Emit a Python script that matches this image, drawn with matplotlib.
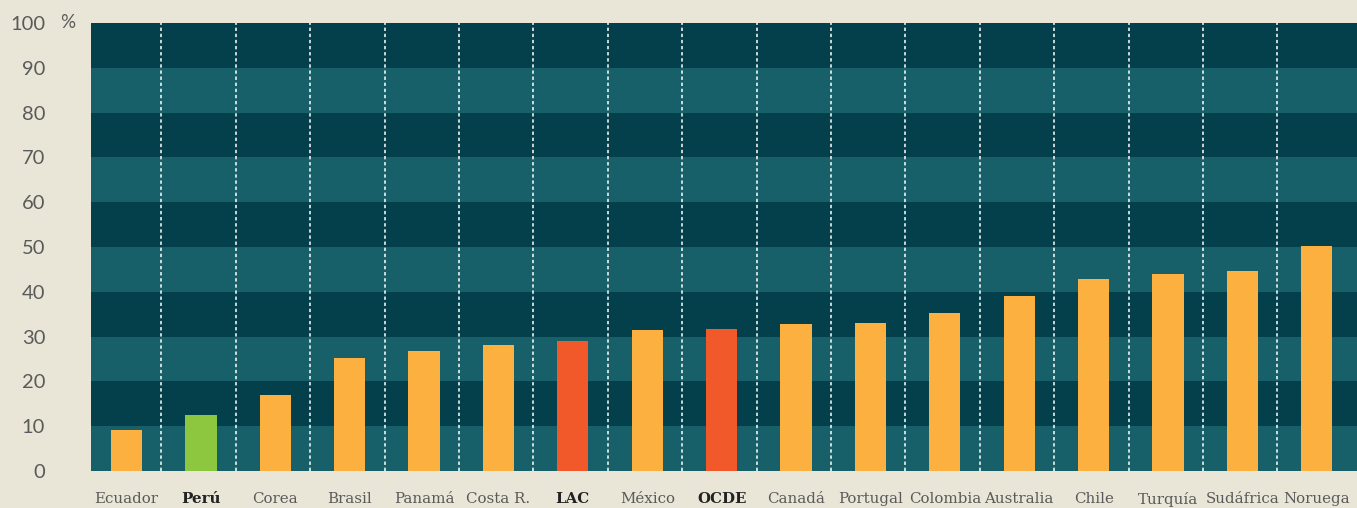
import numpy as np
import matplotlib.pyplot as plt
import matplotlib.transforms as mtransforms

countries = ['Ecuador', 'Perú', 'Corea', 'Brasil', 'Panamá', 'Costa R.', 'LAC',
             'México', 'OCDE', 'Canadá', 'Portugal', 'Colombia', 'Australia',
             'Chile', 'Turquía', 'Sudáfrica', 'Noruega']
values = [9.2, 12.5, 17.0, 25.2, 26.8, 28.1, 29.0, 31.5, 31.7, 32.8, 33.0,
          35.3, 39.1, 42.9, 44.0, 44.6, 50.2]
highlight = ['normal', 'peru', 'normal', 'normal', 'normal', 'normal', 'avg',
             'normal', 'avg', 'normal', 'normal', 'normal', 'normal', 'normal',
             'normal', 'normal', 'normal']
yticks = [0, 10, 20, 30, 40, 50, 60, 70, 80, 90, 100]

bg = '#E9E6D8'
dark_band = '#04404B'
light_band = '#175F69'
colors = {'normal': '#FBB040', 'peru': '#8DC63F', 'avg': '#F1592A'}
text_col = '#5a5a5a'

fig = plt.figure(figsize=(13.57, 5.08), dpi=100, facecolor=bg)
ax = fig.add_axes([91/1357, 37/508, 1266/1357, 448/508])
ax.set_facecolor(dark_band)

# alternating horizontal bands
for k in range(10):
    ax.axhspan(k*10, (k+1)*10, color=light_band if k % 2 == 0 else dark_band,
               lw=0, zorder=0)

x = np.arange(len(countries))
ax.bar(x + 0.03, values, width=0.42, color=[colors[h] for h in highlight],
       zorder=3, linewidth=0)

for xi in x[:-1]:
    ax.axvline(xi + 0.5, color='white', lw=1.1, ls=(0, (2.2, 1.8)), zorder=2)

ax.set_xlim(-0.447, 16.57)
ax.set_ylim(0, 100)
for s in ax.spines.values():
    s.set_visible(False)

ax.set_yticks(yticks)
ax.set_yticklabels([str(t) for t in yticks], fontsize=14.5, color=text_col,
                   family='Lato')
ax.tick_params(axis='y', length=0, pad=33)
ax.set_xticks([])

trans = mtransforms.blended_transform_factory(ax.transData, ax.transAxes)
for xi, name, h in zip(x, countries, highlight):
    bold = h != 'normal'
    ax.text(xi + 0.03, -0.063, name, transform=trans, ha='center', va='center',
            fontsize=10.8, family='DejaVu Serif',
            fontweight='bold' if bold else 'normal',
            color='#222222' if bold else text_col)

ax.text(-0.0126, 1.0, '%', transform=ax.transAxes, ha='right', va='center',
        fontsize=13.5, color=text_col, family='Lato')

fig.savefig('out.png', dpi=100, facecolor=bg)
